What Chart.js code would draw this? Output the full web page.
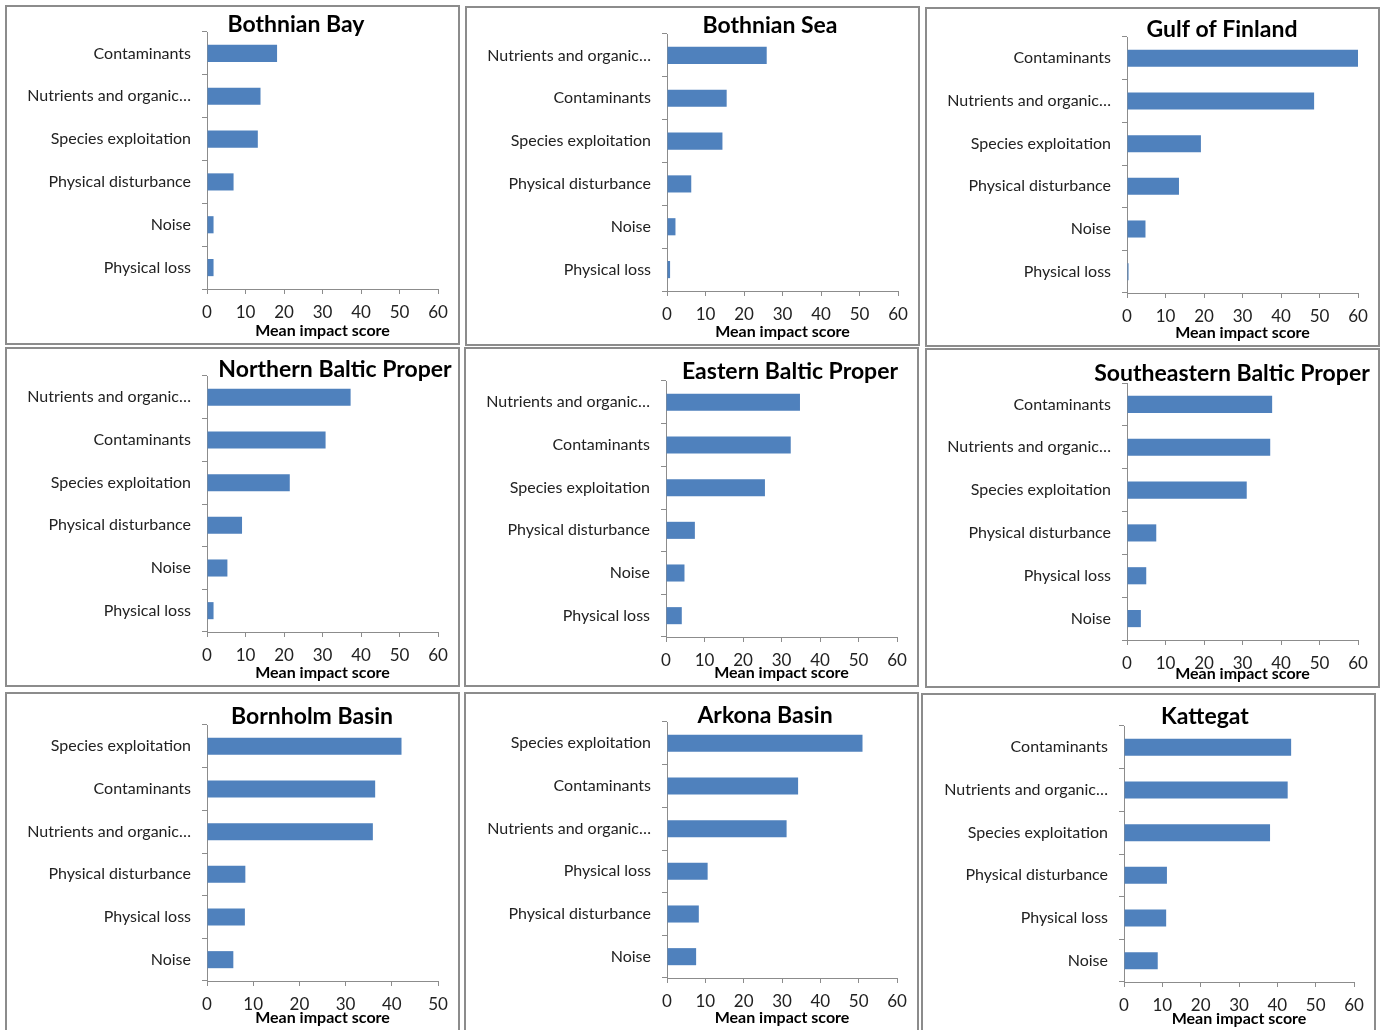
<!DOCTYPE html>
<html>
<head>
<meta charset="utf-8">
<script src="https://cdn.jsdelivr.net/npm/chart.js@4/dist/chart.umd.min.js"></script>
<style>
  body { margin: 0; background: #fff; width: 1388px; height: 1030px; overflow: hidden; position: relative; }
  .panel { position: absolute; width: 455px; height: 340px; border: 2px solid #8c8c8c; box-sizing: border-box; background: #fff; }
  .panel canvas { position: absolute; left: 0; top: 0; }
</style>
</head>
<body>
<script>
// Regions (one small chart each)
const regions = [
  'Bothnian Bay', 'Bothnian Sea', 'Gulf of Finland',
  'Northern Baltic Proper', 'Eastern Baltic Proper', 'Southeastern Baltic Proper',
  'Bornholm Basin', 'Arkona Basin', 'Kattegat'
];

// Pressure categories, top to bottom, per region
const panelLabels = [
  ['Contaminants', 'Nutrients and organic…', 'Species exploitation', 'Physical disturbance', 'Noise', 'Physical loss'],
  ['Nutrients and organic…', 'Contaminants', 'Species exploitation', 'Physical disturbance', 'Noise', 'Physical loss'],
  ['Contaminants', 'Nutrients and organic…', 'Species exploitation', 'Physical disturbance', 'Noise', 'Physical loss'],
  ['Nutrients and organic…', 'Contaminants', 'Species exploitation', 'Physical disturbance', 'Noise', 'Physical loss'],
  ['Nutrients and organic…', 'Contaminants', 'Species exploitation', 'Physical disturbance', 'Noise', 'Physical loss'],
  ['Contaminants', 'Nutrients and organic…', 'Species exploitation', 'Physical disturbance', 'Physical loss', 'Noise'],
  ['Species exploitation', 'Contaminants', 'Nutrients and organic…', 'Physical disturbance', 'Physical loss', 'Noise'],
  ['Species exploitation', 'Contaminants', 'Nutrients and organic…', 'Physical loss', 'Physical disturbance', 'Noise'],
  ['Contaminants', 'Nutrients and organic…', 'Species exploitation', 'Physical disturbance', 'Physical loss', 'Noise']
];

// Mean impact scores, same order as the labels
const panelValues = [
  [18.2, 13.9, 13.2, 6.9, 1.7, 1.7],
  [25.9, 15.5, 14.4, 6.3, 2.2, 0.8],
  [60.0, 48.6, 19.2, 13.5, 4.8, 0.4],
  [37.3, 30.8, 21.5, 9.1, 5.3, 1.7],
  [34.8, 32.4, 25.7, 7.5, 4.8, 4.1],
  [37.7, 37.2, 31.1, 7.6, 5.0, 3.6],
  [42.1, 36.4, 35.9, 8.3, 8.2, 5.7],
  [51.0, 34.2, 31.2, 10.6, 8.3, 7.6],
  [43.6, 42.7, 38.1, 11.2, 11.0, 8.8]
];

// x axis maximum per region (ticks every 10)
const axisMax = [60, 60, 60, 60, 60, 60, 50, 60, 60];
const axisTitle = 'Mean impact score';

// panel layout: [left, top, plotTop, plotBottom, axisX, titleX, titleY] (outer px)
const panelBoxes = [
  [5, 5, 27, 284, 202, 291, 20],
  [465, 6, 28, 285, 202, 305, 20],
  [925, 7, 30, 286, 202, 297, 23],
  [5, 347, 29, 285, 202, 330, 23],
  [464, 347, 34, 290, 202, 326, 25],
  [925, 348, 35, 292, 202, 307, 26],
  [5, 692, 33, 289, 202, 307, 25],
  [464, 692, 30, 286, 203, 301, 24],
  [921, 693, 33, 289, 203, 284, 24]
];

const barColor = '#4F81BD';
const axisColor = '#8c8c8c';
const fontFamily = 'Lato, "Open Sans", sans-serif';

// draws the region name where the original puts it
const panelTitle = {
  id: 'panelTitle',
  afterDraw(chart, args, opts) {
    const ctx = chart.ctx;
    ctx.save();
    ctx.font = 'bold 23px ' + fontFamily;
    ctx.fillStyle = '#000';
    ctx.textAlign = 'center';
    ctx.textBaseline = 'middle';
    ctx.fillText(opts.text, opts.x, opts.y);
    ctx.restore();
  }
};

regions.forEach((name, i) => {
  const [left, top, plotTop, plotBottom, axisX, titleX, titleY] = panelBoxes[i];
  const div = document.createElement('div');
  div.className = 'panel';
  div.style.left = left + 'px';
  div.style.top = top + 'px';
  const canvas = document.createElement('canvas');
  canvas.width = 451;
  canvas.height = 336;
  div.appendChild(canvas);
  document.body.appendChild(div);

  new Chart(canvas.getContext('2d'), {
    type: 'bar',
    data: {
      labels: panelLabels[i],
      datasets: [{
        data: panelValues[i],
        backgroundColor: barColor,
        borderWidth: 0,
        barPercentage: 0.4,
        categoryPercentage: 1
      }]
    },
    options: {
      indexAxis: 'y',
      responsive: false,
      animation: false,
      layout: { padding: { top: plotTop - 2, right: 20, bottom: 3, left: 0 } },
      plugins: {
        legend: { display: false },
        tooltip: { enabled: false },
        panelTitle: { text: name, x: titleX - 2, y: titleY - 2 }
      },
      scales: {
        x: {
          min: 0,
          max: axisMax[i],
          afterFit: s => { s.height = 335 - plotBottom; },
          border: { color: axisColor, width: 1 },
          grid: { drawOnChartArea: false, color: axisColor, tickLength: 5 },
          ticks: {
            stepSize: 10,
            maxRotation: 0,
            autoSkip: false,
            padding: 8,
            color: '#222',
            font: { family: fontFamily, size: 17 }
          },
          title: {
            display: true,
            text: axisTitle,
            color: '#000',
            padding: 0,
            font: { family: fontFamily, size: 16, weight: 'bold' }
          }
        },
        y: {
          afterFit: s => { s.width = axisX - 2; },
          border: { color: axisColor, width: 1 },
          grid: { drawOnChartArea: false, color: axisColor, tickLength: 5 },
          ticks: {
            padding: 11,
            color: '#222',
            font: { family: fontFamily, size: 16 }
          }
        }
      }
    },
    plugins: [panelTitle]
  });
});
</script>
</body>
</html>
